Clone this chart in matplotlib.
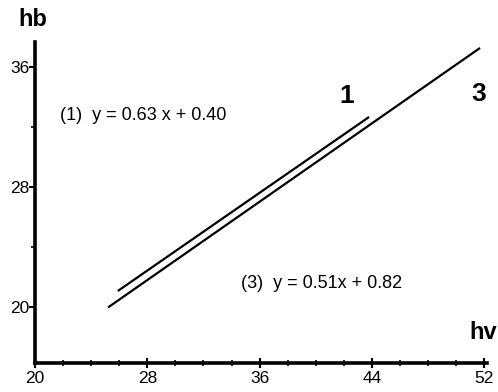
import matplotlib
matplotlib.use("Agg")
import matplotlib.pyplot as plt
from matplotlib.ticker import MultipleLocator

plt.rcParams['font.family'] = ['Liberation Sans', 'DejaVu Sans']

# Data (hv, hb)
line1_x = [25.9, 43.8]
line1_y = [21.1, 32.7]
line3_x = [25.2, 51.7]
line3_y = [20.0, 37.3]
x_ticks = [20, 28, 36, 44, 52]
y_ticks = [20, 28, 36]
eq1 = "(1)  y = 0.63 x + 0.40"
eq3 = "(3)  y = 0.51x + 0.82"

fig = plt.figure(figsize=(4.98, 3.92), dpi=100)
ax = fig.add_axes([0.0703, 0.074, 0.978 - 0.0703, 0.893 - 0.074])

ax.plot(line1_x, line1_y, color='black', lw=1.6, solid_capstyle='butt')
ax.plot(line3_x, line3_y, color='black', lw=1.6, solid_capstyle='butt')

ax.set_xlim(20, 52.2)
ax.set_ylim(16.3, 37.7)

for s in ['top', 'right']:
    ax.spines[s].set_visible(False)
for s in ['left', 'bottom']:
    ax.spines[s].set_linewidth(2.6)

ax.set_xticks(x_ticks)
ax.set_yticks(y_ticks)
ax.xaxis.set_minor_locator(MultipleLocator(2))
ax.yaxis.set_minor_locator(MultipleLocator(4))
ax.tick_params(axis='x', which='major', direction='inout', length=7, width=1.5, labelsize=12.5, pad=2)
ax.tick_params(axis='x', which='minor', direction='inout', length=5, width=1.2)
ax.tick_params(axis='y', which='major', direction='out', length=4, width=1.5, labelsize=12.5, pad=0)
ax.tick_params(axis='y', which='minor', direction='out', length=3, width=1.2)

ax.text(42.2, 34.1, "1", fontsize=19, fontweight='bold', ha='center', va='center')
ax.text(51.6, 34.2, "3", fontsize=19, fontweight='bold', ha='center', va='center')
ax.text(21.8, 32.8, eq1, fontsize=13, ha='left', va='center')
ax.text(34.7, 21.6, eq3, fontsize=13, ha='left', va='center')

fig.text(0.036, 0.95, "hb", fontsize=17, fontweight='bold', ha='left', va='center')
fig.text(0.97, 0.153, "hv", fontsize=17, fontweight='bold', ha='center', va='center')

fig.savefig("out.png", dpi=100)
